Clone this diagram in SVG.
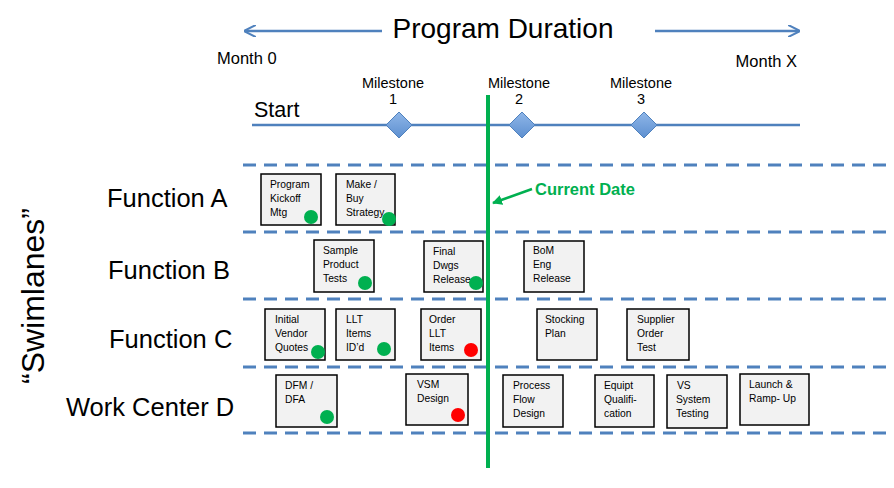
<svg xmlns="http://www.w3.org/2000/svg" width="894" height="488" viewBox="0 0 894 488">
<defs>
<marker id="ah" viewBox="0 0 10 10" refX="9" refY="5" markerWidth="5" markerHeight="5" orient="auto" markerUnits="strokeWidth">
<path d="M0,0 L10,5 L0,10" fill="none" stroke="#4f81bd" stroke-width="1.6"/>
</marker>
<marker id="gh" viewBox="0 0 10 10" refX="9" refY="5" markerWidth="4" markerHeight="4" orient="auto" markerUnits="strokeWidth">
<path d="M0,0 L10,5 L0,10 z" fill="#00b050"/>
</marker>
<linearGradient id="dg" x1="0" y1="0" x2="0" y2="1">
<stop offset="0" stop-color="#8fb6e8"/>
<stop offset="1" stop-color="#5d8fd0"/>
</linearGradient>
</defs>
<style>
text{font-family:"Liberation Sans",Arial,sans-serif;fill:#000}
.lane{stroke:#4f81bd;stroke-width:3;stroke-dasharray:13 8;fill:none}
.box{fill:#f2f2f2;stroke:#000;stroke-width:1.5}
.bt{font-size:10.3px}
.lbl{font-size:25.5px}
.ms{font-size:14.5px;text-anchor:middle}
.dia{fill:url(#dg);stroke:#4f81bd;stroke-width:1}
.g{fill:#00b050}
.r{fill:#ff0000}
</style>
<rect width="894" height="488" fill="#fff"/>

<g id="header">
<line x1="382" y1="31" x2="245" y2="31" stroke="#4f81bd" stroke-width="2.5" marker-end="url(#ah)"/>
<line x1="655" y1="31" x2="799" y2="31" stroke="#4f81bd" stroke-width="2.5" marker-end="url(#ah)"/>
<text x="503" y="38" font-size="28" text-anchor="middle">Program Duration</text>
<text x="217" y="64" font-size="16.5">Month 0</text>
<text x="797" y="67" font-size="16.5" text-anchor="end">Month X</text>
</g>

<g id="timeline">
<line x1="252" y1="125" x2="800" y2="125" stroke="#4f81bd" stroke-width="2.5"/>
<text x="254" y="117" font-size="21.5">Start</text>
<g id="m1"><text class="ms" x="393" y="88">Milestone</text><text class="ms" x="393" y="104">1</text><path class="dia" d="M399,112 L412,125 L399,138 L386,125 z"/></g>
<g id="m2"><text class="ms" x="519" y="88">Milestone</text><text class="ms" x="519" y="104">2</text><path class="dia" d="M522,112 L535,125 L522,138 L509,125 z"/></g>
<g id="m3"><text class="ms" x="641" y="88">Milestone</text><text class="ms" x="641" y="104">3</text><path class="dia" d="M644,112 L657,125 L644,138 L631,125 z"/></g>
</g>

<g id="lanes">
<line class="lane" x1="243" y1="165" x2="892" y2="165"/>
<line class="lane" x1="243" y1="232" x2="892" y2="232"/>
<line class="lane" x1="243" y1="299" x2="892" y2="299"/>
<line class="lane" x1="243" y1="367" x2="892" y2="367"/>
<line class="lane" x1="243" y1="433" x2="892" y2="433"/>
</g>

<g id="lane-labels">
<text x="33" y="296" font-size="32" text-anchor="middle" transform="rotate(-90 33 296)" dy="11">“Swimlanes”</text>
<text class="lbl" x="107" y="207">Function A</text>
<text class="lbl" x="108" y="279">Function B</text>
<text class="lbl" x="109" y="348">Function C</text>
<text class="lbl" x="66" y="416">Work Center D</text>
</g>

<g id="a1"><rect class="box" x="261" y="174" width="60" height="51"/><text class="bt" x="270" y="188">Program</text><text class="bt" x="270" y="202">Kickoff</text><text class="bt" x="270" y="216">Mtg</text><circle class="g" cx="311" cy="217" r="7"/></g>
<g id="a2"><rect class="box" x="336" y="174" width="59" height="51"/><text class="bt" x="346" y="188">Make /</text><text class="bt" x="346" y="202">Buy</text><text class="bt" x="346" y="216">Strategy</text><circle class="g" cx="389" cy="219" r="7"/></g>

<g id="b1"><rect class="box" x="314" y="240" width="60" height="52"/><text class="bt" x="323" y="254">Sample</text><text class="bt" x="323" y="268">Product</text><text class="bt" x="323" y="282">Tests</text><circle class="g" cx="365" cy="283" r="7"/></g>
<g id="b2"><rect class="box" x="424" y="241" width="59" height="51"/><text class="bt" x="433" y="255">Final</text><text class="bt" x="433" y="269">Dwgs</text><text class="bt" x="433" y="283">Release</text><circle class="g" cx="476" cy="283" r="7"/></g>
<g id="b3"><rect class="box" x="524" y="241" width="60" height="51"/><text class="bt" x="533" y="254">BoM</text><text class="bt" x="533" y="268">Eng</text><text class="bt" x="533" y="282">Release</text></g>

<g id="c1"><rect class="box" x="265" y="309" width="60" height="51"/><text class="bt" x="275" y="323">Initial</text><text class="bt" x="275" y="337">Vendor</text><text class="bt" x="275" y="351">Quotes</text><circle class="g" cx="318" cy="352" r="7"/></g>
<g id="c2"><rect class="box" x="336" y="309" width="59" height="51"/><text class="bt" x="346" y="323">LLT</text><text class="bt" x="346" y="337">Items</text><text class="bt" x="346" y="351">ID’d</text><circle class="g" cx="384" cy="349" r="7"/></g>
<g id="c3"><rect class="box" x="421" y="309" width="60" height="51"/><text class="bt" x="429" y="323">Order</text><text class="bt" x="429" y="337">LLT</text><text class="bt" x="429" y="351">Items</text><circle class="r" cx="471" cy="350" r="7"/></g>
<g id="c4"><rect class="box" x="537" y="309" width="60" height="51"/><text class="bt" x="545" y="323">Stocking</text><text class="bt" x="545" y="337">Plan</text></g>
<g id="c5"><rect class="box" x="627" y="309" width="62" height="51"/><text class="bt" x="637" y="323">Supplier</text><text class="bt" x="637" y="337">Order</text><text class="bt" x="637" y="351">Test</text></g>

<g id="d1"><rect class="box" x="276" y="375" width="61" height="52"/><text class="bt" x="285" y="389">DFM /</text><text class="bt" x="285" y="403">DFA</text><circle class="g" cx="327" cy="417" r="7"/></g>
<g id="d2"><rect class="box" x="406" y="374" width="62" height="51"/><text class="bt" x="417" y="388">VSM</text><text class="bt" x="417" y="402">Design</text><circle class="r" cx="458" cy="415" r="7"/></g>
<g id="d3"><rect class="box" x="503" y="375" width="60" height="52"/><text class="bt" x="513" y="389">Process</text><text class="bt" x="513" y="403">Flow</text><text class="bt" x="513" y="417">Design</text></g>
<g id="d4"><rect class="box" x="595" y="375" width="59" height="52"/><text class="bt" x="604" y="389">Equipt</text><text class="bt" x="604" y="403">Qualifi-</text><text class="bt" x="604" y="417">cation</text></g>
<g id="d5"><rect class="box" x="667" y="375" width="60" height="53"/><text class="bt" x="677" y="389">VS</text><text class="bt" x="676" y="403">System</text><text class="bt" x="676" y="417">Testing</text></g>
<g id="d6"><rect class="box" x="740" y="374" width="69" height="51"/><text class="bt" x="749" y="388">Launch &amp;</text><text class="bt" x="749" y="402">Ramp- Up</text></g>

<g id="current-date">
<line x1="488" y1="95" x2="488" y2="468" stroke="#00b050" stroke-width="4"/>
<line x1="532" y1="189" x2="493" y2="203" stroke="#00b050" stroke-width="2.5" marker-end="url(#gh)"/>
<text x="535" y="195" font-size="16.5" font-weight="bold" style="fill:#00b050">Current Date</text>
</g>
</svg>
